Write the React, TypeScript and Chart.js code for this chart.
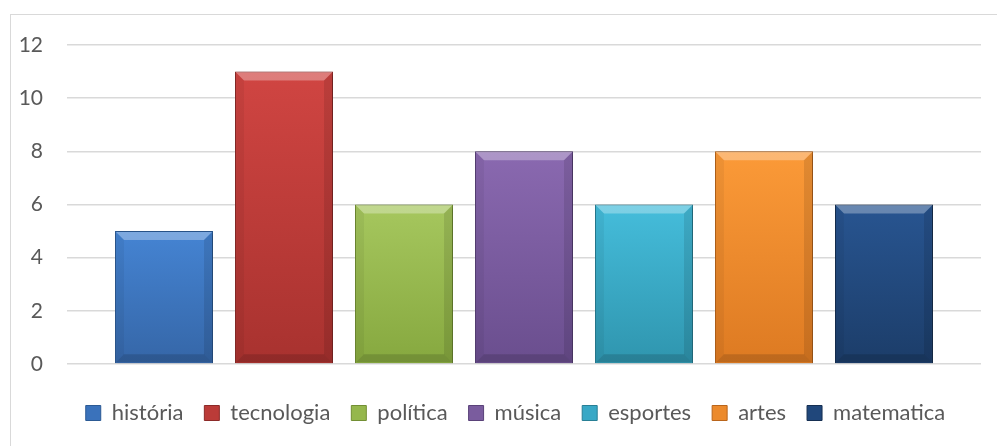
import React, { useEffect, useRef } from "react";
import { Chart, registerables } from "chart.js";

Chart.register(...registerables);

const categories = ["Total"];
const seriesNames = ["história", "tecnologia", "política", "música", "esportes", "artes", "matematica"];
const seriesValues = [5, 11, 6, 8, 6, 8, 6];
const yTicks = [0, 2, 4, 6, 8, 10, 12];

const topColors = ["#4584d3", "#d04542", "#a6c75e", "#8a69b0", "#45bddb", "#fb9a38", "#285591"];
const bottomColors = ["#3566a7", "#a8322f", "#86a83f", "#6a4e8e", "#2f95ae", "#dd7a22", "#1c3d69"];
const borderColors = ["#2c5a94", "#8c2a28", "#728f34", "#5a4279", "#287f95", "#b9651b", "#162f52"];
const legendColors = ["#3a72bb", "#bb3b38", "#95b74c", "#7a5c9e", "#38a8c6", "#ec8a2c", "#20477b"];

const FONT = "Lato, 'Open Sans', sans-serif";

const bevelPlugin = {
  id: "bevel",
  afterLayout(chart: any) {
    const lg = chart.legend;
    if (lg) {
      lg.left += 25;
      lg.right += 25;
    }
  },
  beforeDatasetsDraw(chart: any) {
    const ctx = chart.ctx;
    ctx.save();
    ctx.shadowColor = "rgba(0,0,0,0.35)";
    ctx.shadowBlur = 4;
    ctx.shadowOffsetX = 1;
    ctx.shadowOffsetY = 1;
  },
  afterDatasetsDraw(chart: any) {
    const ctx = chart.ctx;
    ctx.restore();
    ctx.save();
    chart.data.datasets.forEach((ds: any, i: number) => {
      const meta = chart.getDatasetMeta(i);
      meta.data.forEach((el: any) => {
        const w = el.width;
        const l = el.x - w / 2 + 1;
        const r = el.x + w / 2 - 1;
        const t = Math.min(el.y, el.base) + 1;
        const b = Math.max(el.y, el.base) - 1;
        const bv = 8;
        ctx.beginPath();
        ctx.moveTo(l, t);
        ctx.lineTo(r, t);
        ctx.lineTo(r - bv, t + bv);
        ctx.lineTo(l + bv, t + bv);
        ctx.closePath();
        ctx.fillStyle = "rgba(255,255,255,0.30)";
        ctx.fill();
        ctx.beginPath();
        ctx.moveTo(l, b);
        ctx.lineTo(r, b);
        ctx.lineTo(r - bv, b - bv);
        ctx.lineTo(l + bv, b - bv);
        ctx.closePath();
        ctx.fillStyle = "rgba(0,0,0,0.14)";
        ctx.fill();
        ctx.beginPath();
        ctx.moveTo(l, t);
        ctx.lineTo(l + bv, t + bv);
        ctx.lineTo(l + bv, b - bv);
        ctx.lineTo(l, b);
        ctx.closePath();
        ctx.fillStyle = "rgba(0,0,0,0.05)";
        ctx.fill();
        ctx.beginPath();
        ctx.moveTo(r, t);
        ctx.lineTo(r - bv, t + bv);
        ctx.lineTo(r - bv, b - bv);
        ctx.lineTo(r, b);
        ctx.closePath();
        ctx.fillStyle = "rgba(0,0,0,0.10)";
        ctx.fill();
      });
    });
    ctx.restore();
  },
};

export default function App() {
  const canvasRef = useRef<HTMLCanvasElement | null>(null);

  useEffect(() => {
    const canvas = canvasRef.current;
    if (!canvas) return;
    const datasets = seriesNames.map((name, i) => ({
      label: name,
      data: [seriesValues[i]],
      backgroundColor: (c: any) => {
        const chart = c.chart;
        const ys = chart.scales && chart.scales.y;
        if (!chart.chartArea || !ys || c.raw === undefined) return legendColors[i];
        const top = ys.getPixelForValue(c.raw);
        const bot = ys.getPixelForValue(0);
        if (!isFinite(top) || !isFinite(bot) || top === bot) return legendColors[i];
        const g = chart.ctx.createLinearGradient(0, top, 0, bot);
        g.addColorStop(0, topColors[i]);
        g.addColorStop(1, bottomColors[i]);
        return g;
      },
      borderColor: borderColors[i],
      borderWidth: 1,
      categoryPercentage: 0.919,
      barPercentage: 0.8167,
    }));

    const chart = new Chart(canvas, {
      type: "bar",
      data: { labels: categories, datasets },
      plugins: [bevelPlugin],
      options: {
        responsive: false,
        animation: false,
        layout: { padding: { left: 0, right: 16, top: 45, bottom: 12 } },
        plugins: {
          tooltip: { enabled: false },
          legend: {
            position: "bottom",
            labels: {
              boxWidth: 15,
              boxHeight: 15,
              padding: 21,
              color: "#595959",
              font: { family: FONT, size: 22 },
              generateLabels: () =>
                seriesNames.map((name, i) => ({
                  text: name,
                  fillStyle: legendColors[i],
                  strokeStyle: borderColors[i],
                  lineWidth: 1,
                  hidden: false,
                  datasetIndex: i,
                  fontColor: "#595959",
                })),
            },
          },
        },
        scales: {
          x: {
            display: true,
            grid: { display: false },
            border: { display: false },
            ticks: { display: false },
            afterFit: (axis: any) => {
              axis.height = 17;
            },
          },
          y: {
            min: 0,
            max: 12,
            afterBuildTicks: (axis: any) => {
              axis.ticks = yTicks.map((v) => ({ value: v }));
            },
            grid: { color: "#d9d9d9", lineWidth: 1.4, drawTicks: false },
            border: { display: false },
            ticks: {
              padding: 24,
              color: "#595959",
              font: { family: FONT, size: 21 },
            },
            afterFit: (axis: any) => {
              axis.width = 67;
            },
          },
        },
      },
    });
    return () => chart.destroy();
  }, []);

  return (
    <div
      style={{
        position: "fixed",
        left: 0,
        top: 0,
        width: 997,
        height: 446,
        overflow: "hidden",
        background: "#ffffff",
      }}
    >
      <div
        style={{
          position: "absolute",
          left: 10,
          top: 14,
          width: 1100,
          height: 600,
          border: "1px solid #d9d9d9",
          boxSizing: "border-box",
        }}
      />
      <canvas
        ref={canvasRef}
        width={997}
        height={446}
        style={{ position: "absolute", left: 0, top: 0, width: 997, height: 446 }}
      />
    </div>
  );
}
